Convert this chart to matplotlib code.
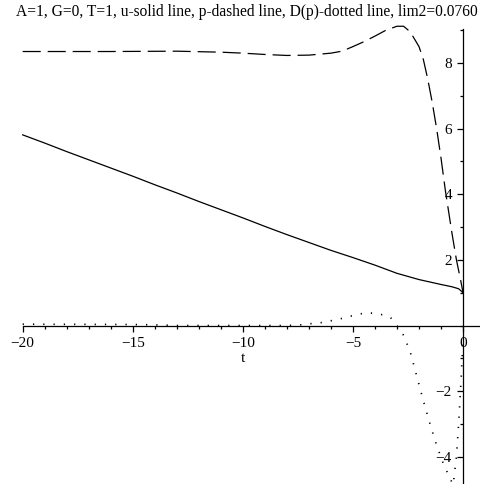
import matplotlib
matplotlib.use('Agg')
import matplotlib.pyplot as plt
from matplotlib.ticker import MultipleLocator, FixedLocator

# u - solid line
t_u = [-20, -19, -18, -17, -16, -15, -14, -13, -12, -11, -10, -9, -8, -7, -6,
       -5, -4, -3, -2, -1, -0.5, -0.2, 0]
u = [5.81, 5.56, 5.30, 5.05, 4.80, 4.55, 4.29, 4.04, 3.78, 3.53, 3.28, 3.02, 2.77,
     2.53, 2.29, 2.07, 1.84, 1.59, 1.40, 1.25, 1.18, 1.12, 1.0]

# p - dashed line
t_p = [-20, -16, -13, -11, -10, -9, -8, -7, -6, -5.5, -5, -4.5, -4, -3.5, -3,
       -2.7, -2.4, -2.0, -1.8, -1.6, -1.4, -1.2, -1.0, -0.8, -0.5, -0.3, -0.1, 0]
p = [8.35, 8.35, 8.36, 8.33, 8.30, 8.26, 8.23, 8.24, 8.30, 8.36, 8.50, 8.65, 8.82,
     9.00, 9.12, 9.12, 8.95, 8.5, 8.1, 7.5, 6.8, 6.0, 5.1, 4.1, 2.8, 2.0, 1.35, 1.0]

# D(p) - dotted line
t_d = [-20, -15, -14, -13, -8, -7.5, -7, -6.4, -5.6, -4.9, -4.4, -4.0, -3.6, -3.3,
       -3.0, -2.7, -2.4, -2.1, -1.8, -1.5, -1.2, -0.9, -0.6, -0.45, -0.3, -0.2,
       -0.1, -0.05, 0]
d = [0.04, 0.03, 0.02, 0.0, 0.0, 0.01, 0.05, 0.09, 0.20, 0.32, 0.39, 0.37, 0.32,
     0.25, 0.0, -0.3, -0.8, -1.55, -2.3, -3.0, -3.65, -4.2, -4.65, -4.85, -4.0,
     -3.0, -1.8, -1.1, -0.4]

title = 'A=1, G=0, T=1, u-solid line, p-dashed line, D(p)-dotted line, lim2=0.0760'

plt.rcParams['font.family'] = 'Liberation Serif'
plt.rcParams['lines.scale_dashes'] = False

fig = plt.figure(figsize=(4.8, 4.84), dpi=100)
ax = fig.add_axes([0, 0, 1, 1])
ax.patch.set_alpha(0)

ax.plot(t_u, u, color='black', lw=0.9)
ax.plot(t_p, p, color='black', lw=0.9, linestyle=(0, (13, 5)))
ax.plot(t_d, d, color='black', lw=1.2, linestyle=(0, (0.9, 6.5)))

ax.set_xlim(-21.03, 0.77)
ax.set_ylim(-4.83, 9.92)

for s in ['top', 'right']:
    ax.spines[s].set_visible(False)
ax.spines['left'].set_position(('data', 0))
ax.spines['bottom'].set_position(('data', 0))
ax.spines['left'].set_bounds(-4.83, 9.05)
ax.spines['bottom'].set_bounds(-20, 0.77)
ax.spines['left'].set_linewidth(0.9)
ax.spines['bottom'].set_linewidth(0.9)

ax.xaxis.set_major_locator(MultipleLocator(5))
ax.xaxis.set_minor_locator(FixedLocator(range(-20, 1)))
ax.yaxis.set_minor_locator(FixedLocator(range(-4, 10)))
ax.set_yticks([-4, -2, 2, 4, 6, 8])
ax.tick_params(which='major', length=4, width=0.9, labelsize=11, direction='out', pad=4)
ax.tick_params(which='minor', length=2.5, width=0.9, direction='out')

ax.text(-10, -1.0, 't', ha='center', va='center', fontsize=11)
fig.text(0.514, 0.975, title, ha='center', va='center', fontsize=11.2)

fig.savefig('out.png', dpi=100)
